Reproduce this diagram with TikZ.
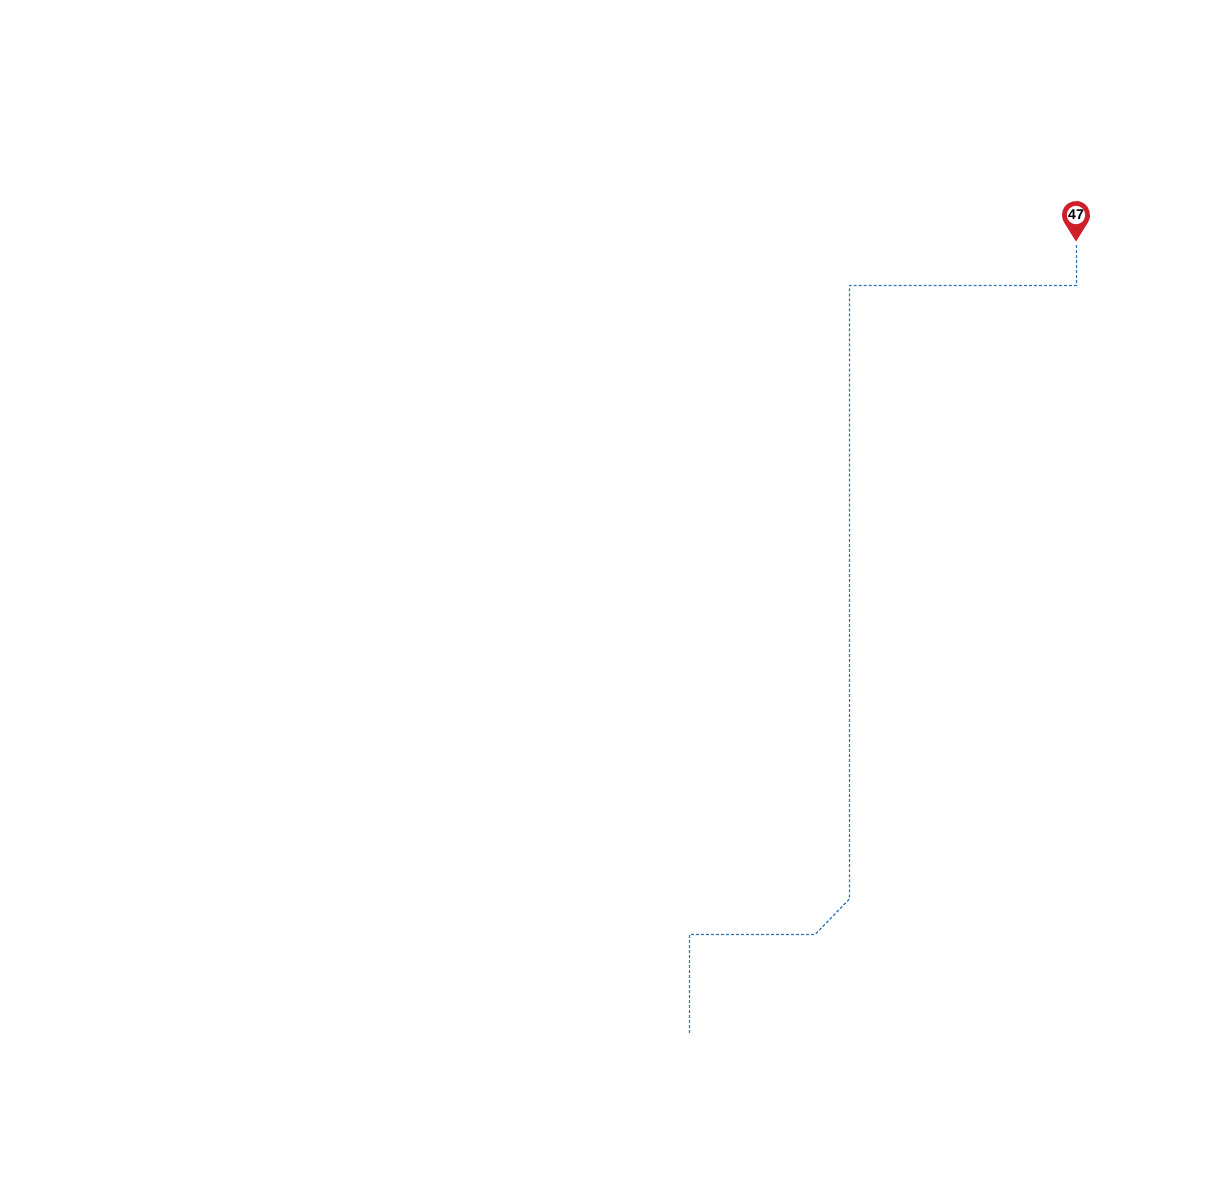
\documentclass[tikz,border=0pt]{standalone}
\usepackage{fontspec}
\setsansfont{Liberation Sans}
\definecolor{routeblue}{HTML}{2E75B6}
\definecolor{pinred}{HTML}{CE1F2B}
\tikzset{
  route/.style={routeblue,line width=0.7pt,dash pattern=on 1.7pt off 1.15pt},
  pinlabel/.style={circle,fill=white,inner sep=0pt,minimum size=0.36cm,font=\sffamily\bfseries\fontsize{8}{8}\selectfont}
}
\begin{document}
\begin{tikzpicture}[x=0.02cm,y=-0.02cm]
    \useasboundingbox (0,0) rectangle (1220,1188);
    \coordinate (pintip) at (1076,241.5);
    \coordinate (routestart) at (1076.4,245);
    \coordinate (bendA) at (1076.4,285.5);
    \coordinate (bendB) at (849.4,285.5);
    \coordinate (bendC) at (849.4,899);
    \coordinate (bendD) at (815,934.5);
    \coordinate (bendE) at (689.4,934.5);
    \coordinate (routeend) at (689.4,1034);
    \draw[route] (routestart) -- (bendA) -- (bendB) -- (bendC) -- (bendD) -- (bendE) -- (routeend);
    \fill[pinred] (pintip) -- (1076,215) ++(31.3:14) arc[start angle=31.3,end angle=-211.3,radius=14] -- (pintip) -- cycle;
    \node[pinlabel] (pin47) at (1076,215) {47};
\end{tikzpicture}
\end{document}
